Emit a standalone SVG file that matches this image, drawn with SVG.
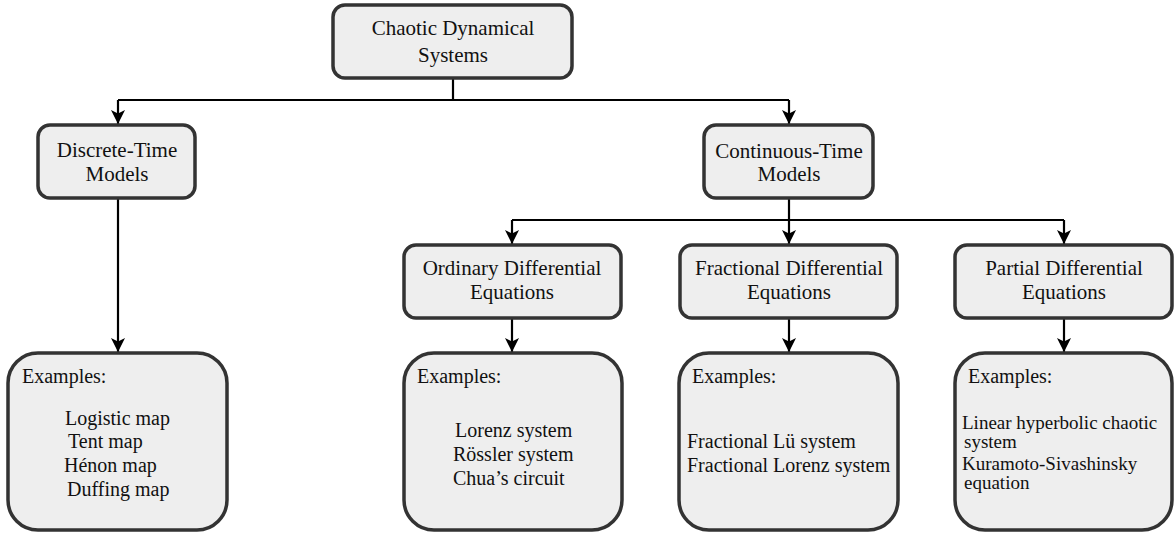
<svg xmlns="http://www.w3.org/2000/svg" width="1174" height="533" viewBox="0 0 1174 533">
<style>
.box{fill:#eeeeee;stroke:#333333;stroke-width:3.5}
.t{font-family:"Liberation Serif","Times New Roman",serif;font-size:21px;fill:#111}
.e{font-family:"Liberation Serif","Times New Roman",serif;font-size:20px;fill:#111}
.s{font-size:19px}
.c{text-anchor:middle}
.ln{fill:none;stroke:#000;stroke-width:2.2}
</style>
<defs>
<marker id="ah" viewBox="0 0 14 14" refX="14" refY="7" markerWidth="14" markerHeight="14" markerUnits="userSpaceOnUse" orient="auto">
<path d="M0,0 L14,7 L0,14 L3.5,7 z" fill="#000"/>
</marker>
</defs>
<g id="connectors">
<path class="ln" d="M453,79 V100"/>
<path class="ln" d="M118,100 H789"/>
<path class="ln" d="M118,100 V124" marker-end="url(#ah)"/>
<path class="ln" d="M789,100 V124" marker-end="url(#ah)"/>
<path class="ln" d="M118,199 V352" marker-end="url(#ah)"/>
<path class="ln" d="M789,199 V244" marker-end="url(#ah)"/>
<path class="ln" d="M512,220 H1064"/>
<path class="ln" d="M512,220 V244" marker-end="url(#ah)"/>
<path class="ln" d="M1064,220 V244" marker-end="url(#ah)"/>
<path class="ln" d="M512,319 V352" marker-end="url(#ah)"/>
<path class="ln" d="M789,319 V352" marker-end="url(#ah)"/>
<path class="ln" d="M1064,319 V352" marker-end="url(#ah)"/>
</g>
<g id="root">
<rect class="box" x="333" y="5" width="239" height="73" rx="12"/>
<text class="t c" x="453" y="35">Chaotic Dynamical</text>
<text class="t c" x="453" y="62">Systems</text>
</g>
<g id="discrete">
<rect class="box" x="38" y="125" width="157" height="73" rx="12"/>
<text class="t c" x="117" y="157">Discrete-Time</text>
<text class="t c" x="117" y="181">Models</text>
</g>
<g id="continuous">
<rect class="box" x="704" y="125" width="169" height="73" rx="12"/>
<text class="t c" x="789" y="158">Continuous-Time</text>
<text class="t c" x="789" y="181">Models</text>
</g>
<g id="ode">
<rect class="box" x="404" y="245" width="217" height="73" rx="12"/>
<text class="t c" x="512" y="275">Ordinary Differential</text>
<text class="t c" x="512" y="299">Equations</text>
</g>
<g id="fde">
<rect class="box" x="680" y="245" width="217" height="73" rx="12"/>
<text class="t c" x="789" y="275">Fractional Differential</text>
<text class="t c" x="789" y="299">Equations</text>
</g>
<g id="pde">
<rect class="box" x="955" y="245" width="217" height="73" rx="12"/>
<text class="t c" x="1064" y="275">Partial Differential</text>
<text class="t c" x="1064" y="299">Equations</text>
</g>
<g id="ex-discrete">
<rect class="box" x="8" y="353" width="219" height="177" rx="30"/>
<text class="e" x="22" y="383">Examples:</text>
<text class="e" x="65" y="425">Logistic map</text>
<text class="e" x="68" y="448">Tent map</text>
<text class="e" x="64" y="472">Hénon map</text>
<text class="e" x="67" y="496">Duffing map</text>
</g>
<g id="ex-ode">
<rect class="box" x="404" y="353" width="218" height="177" rx="30"/>
<text class="e" x="417" y="383">Examples:</text>
<text class="e" x="455" y="437">Lorenz system</text>
<text class="e" x="453" y="461">Rössler system</text>
<text class="e" x="453" y="485">Chua’s circuit</text>
</g>
<g id="ex-fde">
<rect class="box" x="679" y="353" width="219" height="177" rx="30"/>
<text class="e" x="692" y="383">Examples:</text>
<text class="e" x="687" y="448">Fractional Lü system</text>
<text class="e" x="687" y="472">Fractional Lorenz system</text>
</g>
<g id="ex-pde">
<rect class="box" x="955" y="353" width="217" height="177" rx="30"/>
<text class="e" x="968" y="383">Examples:</text>
<text class="e s" x="962" y="429">Linear hyperbolic chaotic</text>
<text class="e s" x="964" y="448">system</text>
<text class="e s" x="962" y="470">Kuramoto-Sivashinsky</text>
<text class="e s" x="964" y="489">equation</text>
</g>
</svg>
